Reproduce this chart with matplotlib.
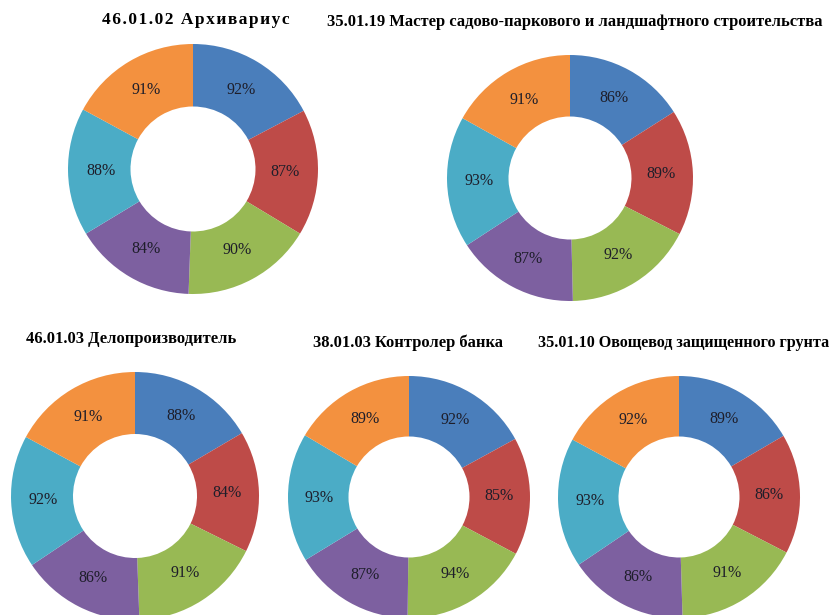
import matplotlib.pyplot as plt
import numpy as np

# значения по секторам (по часовой стрелке от верха)
titles = [
    '46.01.02 Архивариус',
    '35.01.19 Мастер садово-паркового и ландшафтного строительства',
    '46.01.03 Делопроизводитель',
    '38.01.03 Контролер банка',
    '35.01.10 Овощевод защищенного грунта',
]
arhivarius = [92, 87, 90, 84, 88, 91]
master_sad = [86, 89, 92, 87, 93, 91]
deloproizv = [88, 84, 91, 86, 92, 91]
kontroler = [92, 85, 94, 87, 93, 89]
ovoshchevod = [89, 86, 91, 86, 93, 92]
series = [arhivarius, master_sad, deloproizv, kontroler, ovoshchevod]

colors = ['#4A7EBB', '#BE4B48', '#98B954', '#7D60A0', '#4BACC6', '#F3913F']

W, H = 837, 615
fig = plt.figure(figsize=(W / 100, H / 100), dpi=100)

# центры и радиусы колец в пикселях
centers = [(193, 169), (570, 178), (135, 496), (409, 497), (679, 497)]
radii = [125, 123, 124, 121, 121]
# заголовки: (x, y, размер)
title_pos = [(196, 20, 12.5), (575, 22, 11.9),
             (131, 339, 11.9), (408, 343, 11.9), (684, 343, 11.6)]

for i, (vals, (cx, cy), r, title, (tx, ty, fs)) in enumerate(
        zip(series, centers, radii, titles, title_pos)):
    ax = fig.add_axes([(cx - r) / W, 1 - (cy + r) / H, 2 * r / W, 2 * r / H])
    ax.pie(vals, colors=colors, startangle=90, counterclock=False,
           radius=1, wedgeprops=dict(width=0.5, edgecolor='none'))
    total = sum(vals)
    ang = 90.0
    for v in vals:
        mid = ang - v / total * 180.0
        ang -= v / total * 360.0
        ax.text(0.74 * np.cos(np.radians(mid)), 0.74 * np.sin(np.radians(mid)),
                f'{v}%', ha='center', va='center', fontsize=11.5,
                family='Liberation Serif', color='#1e1e2a')
    ax.set_xlim(-1, 1)
    ax.set_ylim(-1, 1)
    ax.set_aspect('equal')
    ax.axis('off')
    if i == 0:
        # первый заголовок набран в разрядку
        title = '\u200a'.join(title)
    fig.text(tx / W, 1 - ty / H, title, ha='center', va='center', fontsize=fs,
             fontweight='bold', family=['Liberation Serif', 'DejaVu Serif'])

fig.savefig('out.png', dpi=100)
